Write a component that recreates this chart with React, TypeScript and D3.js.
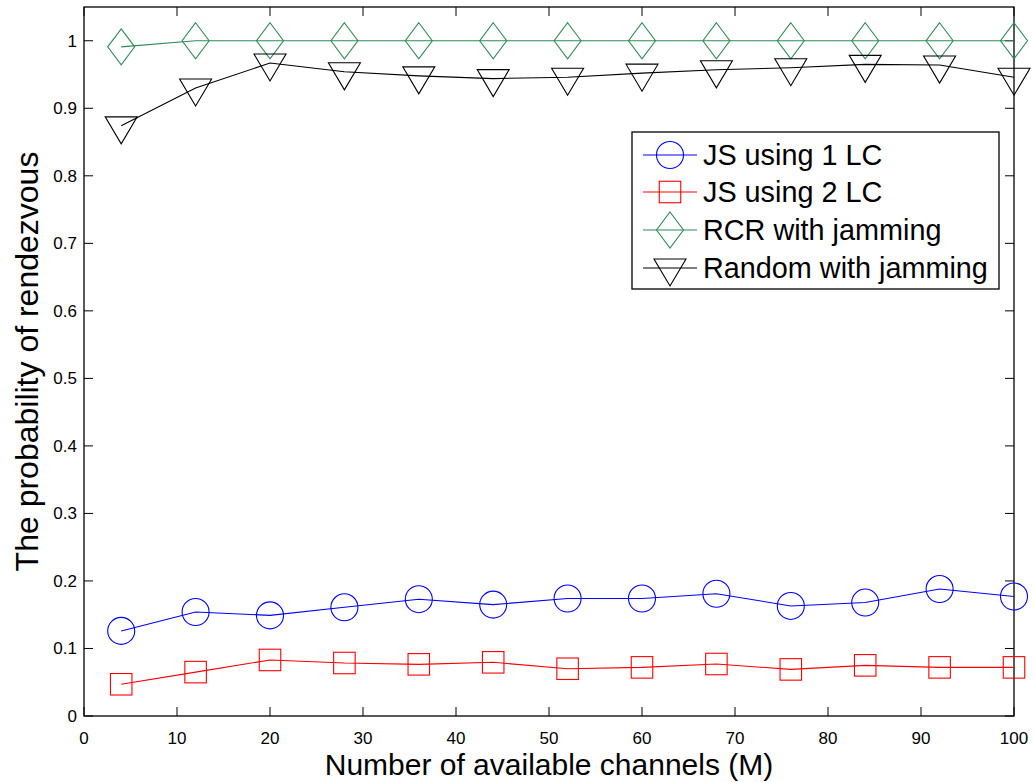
import React from "react";
import * as d3 from "d3";

// Number of available channels (M)
const channels = [4, 12, 20, 28, 36, 44, 52, 60, 68, 76, 84, 92, 100];
// Probability of rendezvous for each scheme
const js1LC = [0.126, 0.154, 0.149, 0.161, 0.173, 0.165, 0.174, 0.174, 0.181, 0.163, 0.168, 0.188, 0.177];
const js2LC = [0.047, 0.065, 0.083, 0.0785, 0.0765, 0.0795, 0.07, 0.072, 0.077, 0.069, 0.075, 0.072, 0.072];
const rcrJamming = [0.991, 1, 1, 1, 1, 1, 1, 1, 1, 1, 1, 1, 1];
const randomJamming = [0.874, 0.93, 0.967, 0.954, 0.948, 0.944, 0.946, 0.952, 0.957, 0.96, 0.965, 0.964, 0.946];

const seriesNames = ["JS using 1 LC", "JS using 2 LC", "RCR with jamming", "Random with jamming"];
const xTicks = [0, 10, 20, 30, 40, 50, 60, 70, 80, 90, 100];
const yTicks = [0, 0.1, 0.2, 0.3, 0.4, 0.5, 0.6, 0.7, 0.8, 0.9, 1];

type Shape = "circle" | "square" | "diamond" | "triangle";

const W = 1034;
const H = 782;
const left = 84;
const right = 1014;
const top = 7;
const bottom = 716;
const FONT = "'Liberation Sans', Arial, Helvetica, sans-serif";

const x = d3.scaleLinear().domain([0, 100]).range([left, right]);
const y = d3.scaleLinear().domain([0, 1.05]).range([bottom, top]);

const series: { name: string; values: number[]; color: string; shape: Shape }[] = [
  { name: seriesNames[0], values: js1LC, color: "#0000ff", shape: "circle" },
  { name: seriesNames[1], values: js2LC, color: "#ff0000", shape: "square" },
  { name: seriesNames[2], values: rcrJamming, color: "#2e8b57", shape: "diamond" },
  { name: seriesNames[3], values: randomJamming, color: "#000000", shape: "triangle" },
];

function Marker({ cx, cy, shape, color }: { cx: number; cy: number; shape: Shape; color: string }) {
  const common = { fill: "none", stroke: color, strokeWidth: 1.1 };
  if (shape === "circle") return <circle cx={cx} cy={cy} r={13.5} {...common} />;
  if (shape === "square") return <rect x={cx - 10.75} y={cy - 10.75} width={21.5} height={21.5} {...common} />;
  if (shape === "diamond") {
    const p = `${cx},${cy - 18} ${cx + 13.5},${cy} ${cx},${cy + 18} ${cx - 13.5},${cy}`;
    return <polygon points={p} {...common} />;
  }
  const p = `${cx - 16},${cy - 9} ${cx + 16},${cy - 9} ${cx},${cy + 18}`;
  return <polygon points={p} {...common} />;
}

export default function App() {
  const line = d3
    .line<[number, number]>()
    .x((d) => x(d[0]))
    .y((d) => y(d[1]));

  const legendX = 632;
  const legendY = 132;
  const legendW = 367;
  const legendH = 157;
  const rowYs = [23, 60, 98, 136];

  return (
    <svg
      width={W}
      height={H}
      style={{ position: "absolute", left: 0, top: 0, background: "#fff" }}
      fontFamily={FONT}
    >
      <rect x={0} y={0} width={W} height={H} fill="#fff" />

      {/* ticks on all four sides, pointing inward */}
      {xTicks.map((t) => (
        <g key={"xt" + t}>
          <line x1={x(t)} x2={x(t)} y1={bottom} y2={bottom - 9} stroke="#000" strokeWidth={1} />
          <line x1={x(t)} x2={x(t)} y1={top} y2={top + 9} stroke="#000" strokeWidth={1} />
          <text x={x(t)} y={744} fontSize={17} textAnchor="middle" fill="#000">
            {t}
          </text>
        </g>
      ))}
      {yTicks.map((t) => (
        <g key={"yt" + t}>
          <line x1={left} x2={left + 9} y1={y(t)} y2={y(t)} stroke="#000" strokeWidth={1} />
          <line x1={right} x2={right - 9} y1={y(t)} y2={y(t)} stroke="#000" strokeWidth={1} />
          <text x={77} y={y(t)} dy="0.35em" fontSize={17} textAnchor="end" fill="#000">
            {d3.format("~g")(t)}
          </text>
        </g>
      ))}

      {/* axes box */}
      <rect x={left} y={top} width={right - left} height={bottom - top} fill="none" stroke="#000" strokeWidth={1.3} />

      {/* series */}
      {series.map((s) => {
        const pts = channels.map((c, i) => [c, s.values[i]] as [number, number]);
        return (
          <g key={s.name}>
            <path d={line(pts) || ""} fill="none" stroke={s.color} strokeWidth={1.1} />
            {pts.map((p, i) => (
              <Marker key={i} cx={x(p[0])} cy={y(p[1])} shape={s.shape} color={s.color} />
            ))}
          </g>
        );
      })}

      {/* legend */}
      <rect x={legendX} y={legendY} width={legendW} height={legendH} fill="#fff" stroke="#000" strokeWidth={1.3} />
      {series.map((s, i) => {
        const cy = legendY + rowYs[i];
        return (
          <g key={"lg" + s.name}>
            <line x1={643} x2={697} y1={cy} y2={cy} stroke={s.color} strokeWidth={1.1} />
            <Marker cx={670} cy={cy} shape={s.shape} color={s.color} />
            <text x={703} y={cy} dy="0.36em" fontSize={28.8} fill="#000">
              {s.name}
            </text>
          </g>
        );
      })}

      {/* axis titles */}
      <text x={(left + right) / 2} y={775} fontSize={30} textAnchor="middle" fill="#000">
        Number of available channels (M)
      </text>
      <text
        transform={`translate(38, ${(top + bottom) / 2}) rotate(-90)`}
        fontSize={32}
        textAnchor="middle"
        fill="#000"
      >
        The probability of rendezvous
      </text>
    </svg>
  );
}
